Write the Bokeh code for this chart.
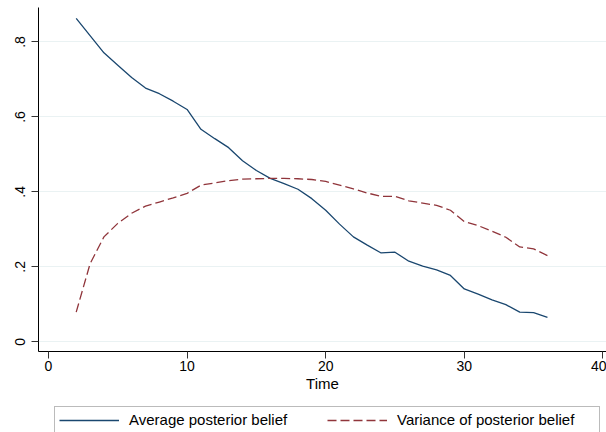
from bokeh.plotting import figure
from bokeh.layouts import column
from bokeh.models import ColumnDataSource, Legend, LegendItem, FixedTicker, Range1d
from bokeh.embed import file_html
from bokeh.resources import INLINE

time = list(range(2, 37))
avg_belief = [0.863, 0.817, 0.771, 0.738, 0.705, 0.677, 0.662, 0.642, 0.620, 0.567,
              0.542, 0.518, 0.483, 0.457, 0.436, 0.422, 0.407, 0.382, 0.351, 0.314,
              0.280, 0.258, 0.237, 0.239, 0.215, 0.202, 0.192, 0.177, 0.141, 0.127,
              0.112, 0.099, 0.079, 0.078, 0.065]
var_belief = [0.079, 0.208, 0.280, 0.316, 0.343, 0.362, 0.373, 0.384, 0.396, 0.418,
              0.424, 0.430, 0.434, 0.435, 0.436, 0.436, 0.435, 0.433, 0.428, 0.418,
              0.408, 0.397, 0.388, 0.388, 0.376, 0.370, 0.364, 0.351, 0.321, 0.310,
              0.295, 0.279, 0.253, 0.248, 0.230]
x_ticks = [0, 10, 20, 30, 40]
y_ticks = [0, 0.2, 0.4, 0.6, 0.8]
y_tick_labels = {0: "0", 0.2: ".2", 0.4: ".4", 0.6: ".6", 0.8: ".8"}
series_names = ["Average posterior belief", "Variance of posterior belief"]

FONT = "Liberation Sans"
NAVY = "#1a476f"
MAROON = "#90353b"
DASH = "9 4"

src = ColumnDataSource(data=dict(t=time, avg=avg_belief, var=var_belief))

p = figure(width=606, height=404, output_backend="svg", toolbar_location=None,
           x_range=Range1d(-0.72, 40.26), y_range=Range1d(-0.0259, 0.892),
           min_border_left=38, min_border_right=0, min_border_top=7, min_border_bottom=53)
p.outline_line_color = None
p.background_fill_color = "white"
p.border_fill_color = "white"

r1 = p.line("t", "avg", source=src, line_color=NAVY, line_width=1.3)
r2 = p.line("t", "var", source=src, line_color=MAROON, line_width=1.3, line_dash=DASH)

p.xgrid.grid_line_color = None
p.ygrid.grid_line_color = "#eaf2f3"
p.ygrid.grid_line_width = 1
p.ygrid.ticker = FixedTicker(ticks=y_ticks)

for ax in (p.xaxis[0], p.yaxis[0]):
    ax.axis_line_color = "black"
    ax.axis_line_width = 1
    ax.major_tick_line_color = "#333333"
    ax.major_tick_in = 0
    ax.major_tick_out = 7
    ax.minor_tick_line_color = None
    ax.major_label_text_font = FONT
    ax.major_label_text_font_size = "14px"
    ax.major_label_text_color = "black"

p.xaxis[0].ticker = FixedTicker(ticks=x_ticks)
p.xaxis[0].major_label_standoff = 2
p.xaxis[0].axis_label = "Time"
p.xaxis[0].axis_label_text_font = FONT
p.xaxis[0].axis_label_text_font_size = "15px"
p.xaxis[0].axis_label_text_font_style = "normal"
p.xaxis[0].axis_label_text_color = "black"
p.xaxis[0].axis_label_standoff = 1

p.yaxis[0].ticker = FixedTicker(ticks=y_ticks)
p.yaxis[0].major_label_overrides = y_tick_labels
p.yaxis[0].major_label_orientation = "parallel"
p.yaxis[0].major_label_standoff = 6

# legend strip below the chart (box bottom runs off the page, as in the reference)
p2 = figure(width=606, height=28, output_backend="svg", toolbar_location=None,
            x_range=Range1d(1000, 1001), y_range=Range1d(1000, 1001),
            min_border_left=38, min_border_right=0, min_border_top=0, min_border_bottom=0)
p2.axis.visible = False
p2.grid.grid_line_color = None
p2.outline_line_color = None
p2.background_fill_color = "white"
p2.border_fill_color = "white"
# legend proxies: same data, drawn out of this strip's view
g1 = p2.line("t", "avg", source=src, line_color=NAVY, line_width=1.3)
g2 = p2.line("t", "var", source=src, line_color=MAROON, line_width=1.3, line_dash=DASH)

legend = Legend(items=[LegendItem(label=series_names[0], renderers=[g1]),
                       LegendItem(label=series_names[1], renderers=[g2])],
                orientation="horizontal", location=(16, -1))
legend.label_text_font = FONT
legend.label_text_font_size = "15px"
legend.label_text_color = "black"
legend.glyph_width = 60
legend.glyph_height = 16
legend.label_height = 16
legend.label_standoff = 10
legend.label_width = 198
legend.spacing = 0
legend.padding = 4
legend.margin = 0
legend.border_line_color = "#777777"
legend.border_line_width = 1
legend.background_fill_color = "white"
legend.background_fill_alpha = 1
p2.add_layout(legend, "center")

layout = column(p, p2, spacing=0)
open("out.html", "w").write(file_html(layout, INLINE))
